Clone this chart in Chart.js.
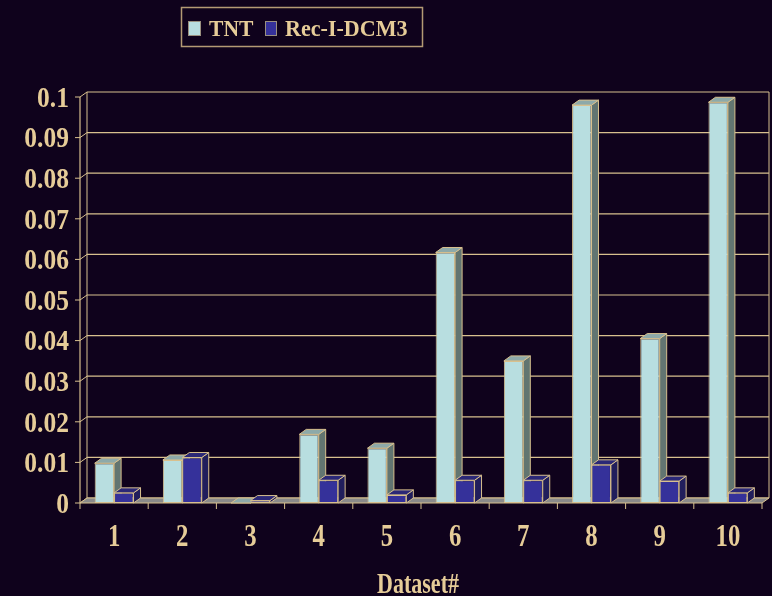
<!DOCTYPE html>
<html>
<head>
<meta charset="utf-8">
<style>
  html, body { margin: 0; padding: 0; background: #0f021c; }
  canvas { display: block; }
</style>
<script src="https://cdn.jsdelivr.net/npm/chart.js@4/dist/chart.umd.min.js"></script>
</head>
<body>
<canvas id="chart" width="772" height="596"></canvas>
<script>
// Dataset numbers along the x axis
const categories = ['1', '2', '3', '4', '5', '6', '7', '8', '9', '10'];
// Series values
const tntValues = [0.0098, 0.0106, 0.0, 0.0169, 0.0135, 0.0617, 0.0350, 0.0980, 0.0405, 0.0987];
const recValues = [0.0025, 0.0112, 0.0006, 0.0056, 0.0020, 0.0056, 0.0056, 0.0094, 0.0054, 0.0025];
// Value axis ticks and labels
const yTickValues = [0, 0.01, 0.02, 0.03, 0.04, 0.05, 0.06, 0.07, 0.08, 0.09, 0.1];
const yTickLabels = ['0', '0.01', '0.02', '0.03', '0.04', '0.05', '0.06', '0.07', '0.08', '0.09', '0.1'];
const seriesNames = ['TNT', 'Rec-I-DCM3'];
const axisTitle = 'Dataset#';

// Palette
const BG = '#0f021c';
const LINE = '#d8c08e';
const TEXT = '#e6cc98';
const FLOOR = '#8a8a8a';
const faces = [
  { front: '#b8dee0', side: '#627571', top: '#8da9a9' },
  { front: '#35319a', side: '#211e5c', top: '#2b2877' }
];
// depth offset of the 3D extrusion
const DX = 7, DY = -5;
const FONT = '"Liberation Serif", "Times New Roman", serif';

function drawText(ctx, text, x, y, size, sx, align) {
  ctx.save();
  ctx.translate(x, y);
  ctx.scale(sx, 1);
  ctx.font = 'bold ' + size + 'px ' + FONT;
  ctx.textAlign = align;
  ctx.textBaseline = 'alphabetic';
  ctx.fillStyle = TEXT;
  ctx.fillText(text, 0, size * 0.338);
  ctx.restore();
}

function poly(ctx, pts, fill) {
  ctx.beginPath();
  ctx.moveTo(pts[0][0], pts[0][1]);
  for (let i = 1; i < pts.length; i++) ctx.lineTo(pts[i][0], pts[i][1]);
  ctx.closePath();
  if (fill) { ctx.fillStyle = fill; ctx.fill(); }
  ctx.strokeStyle = LINE;
  ctx.lineWidth = 1;
  ctx.stroke();
}

function line(ctx, x1, y1, x2, y2, w) {
  ctx.beginPath();
  ctx.moveTo(x1, y1);
  ctx.lineTo(x2, y2);
  ctx.strokeStyle = LINE;
  ctx.lineWidth = w || 1;
  ctx.stroke();
}

const box3d = {
  id: 'box3d',
  beforeDraw(chart) {
    const ctx = chart.ctx;
    ctx.save();
    ctx.fillStyle = BG;
    ctx.fillRect(0, 0, chart.width, chart.height);
    ctx.restore();
  },
  beforeDatasetsDraw(chart) {
    const ctx = chart.ctx;
    const a = chart.chartArea;
    const y = chart.scales.y;
    const x = chart.scales.x;
    ctx.save();

    // back wall gridlines and left wall edges
    yTickValues.forEach(v => {
      const py = y.getPixelForValue(v);
      line(ctx, a.left + DX, py + DY, a.right + DX, py + DY, 1.2);
      line(ctx, a.left, py, a.left + DX, py + DY, 1);
      line(ctx, a.left - 5, py, a.left, py, 1);
    });
    line(ctx, a.left, a.top, a.left, a.bottom, 1.2);
    line(ctx, a.left + DX, a.top + DY, a.left + DX, a.bottom + DY, 1);
    line(ctx, a.right + DX, a.top + DY, a.right + DX, a.bottom + DY, 1);

    // floor
    poly(ctx, [[a.left, a.bottom], [a.left + DX, a.bottom + DY], [a.right + DX, a.bottom + DY], [a.right, a.bottom]], FLOOR);

    // category ticks
    const half = (a.right - a.left) / categories.length / 2;
    for (let i = 0; i <= categories.length; i++) {
      const px = i < categories.length ? x.getPixelForValue(i) - half : x.getPixelForValue(i - 1) + half;
      line(ctx, px, a.bottom, px, a.bottom + 6, 1);
    }

    // top and side faces of every bar
    for (let i = 0; i < categories.length; i++) {
      chart.data.datasets.forEach((ds, d) => {
        const el = chart.getDatasetMeta(d).data[i];
        const x0 = el.x - el.width / 2, x1 = el.x + el.width / 2;
        const yt = el.y, yb = el.base;
        poly(ctx, [[x1, yt], [x1 + DX, yt + DY], [x1 + DX, yb + DY], [x1, yb]], faces[d].side);
        poly(ctx, [[x0, yt], [x0 + DX, yt + DY], [x1 + DX, yt + DY], [x1, yt]], faces[d].top);
      });
    }
    ctx.restore();
  },
  afterDraw(chart) {
    const ctx = chart.ctx;
    const a = chart.chartArea;
    const y = chart.scales.y;
    const x = chart.scales.x;
    ctx.save();
    // value labels
    yTickValues.forEach((v, i) => {
      drawText(ctx, yTickLabels[i], a.left - 11, y.getPixelForValue(v), 29, 0.88, 'right');
    });
    // category labels
    categories.forEach((c, i) => {
      drawText(ctx, c, x.getPixelForValue(i), 536, 31, 0.8, 'center');
    });
    // axis title
    drawText(ctx, axisTitle, 418, 583, 29, 0.76, 'center');

    // legend
    ctx.strokeStyle = '#b39a74';
    ctx.lineWidth = 1.5;
    ctx.strokeRect(181.5, 7.5, 241, 39);
    ctx.fillStyle = faces[0].front;
    ctx.fillRect(188, 21, 13, 15);
    ctx.strokeStyle = '#9a9080';
    ctx.lineWidth = 1;
    ctx.strokeRect(188.5, 21.5, 12, 14);
    drawText(ctx, seriesNames[0], 209, 28, 24, 0.9, 'left');
    ctx.fillStyle = faces[1].front;
    ctx.fillRect(265, 21, 12, 15);
    ctx.strokeRect(265.5, 21.5, 11, 14);
    drawText(ctx, seriesNames[1], 285, 28, 24, 0.92, 'left');
    ctx.restore();
  }
};

new Chart(document.getElementById('chart'), {
  type: 'bar',
  data: {
    labels: categories,
    datasets: [
      { label: seriesNames[0], data: tntValues, backgroundColor: faces[0].front },
      { label: seriesNames[1], data: recValues, backgroundColor: faces[1].front }
    ]
  },
  options: {
    responsive: false,
    devicePixelRatio: 1,
    animation: false,
    layout: { padding: { left: 80, right: 10, top: 97, bottom: 93 } },
    datasets: {
      bar: {
        categoryPercentage: 0.57,
        barPercentage: 1.0,
        borderColor: LINE,
        borderWidth: 1,
        borderSkipped: false
      }
    },
    scales: {
      x: { display: false },
      y: { display: false, min: 0, max: 0.1 }
    },
    plugins: {
      legend: { display: false },
      tooltip: { enabled: false }
    }
  },
  plugins: [box3d]
});
</script>
</body>
</html>
